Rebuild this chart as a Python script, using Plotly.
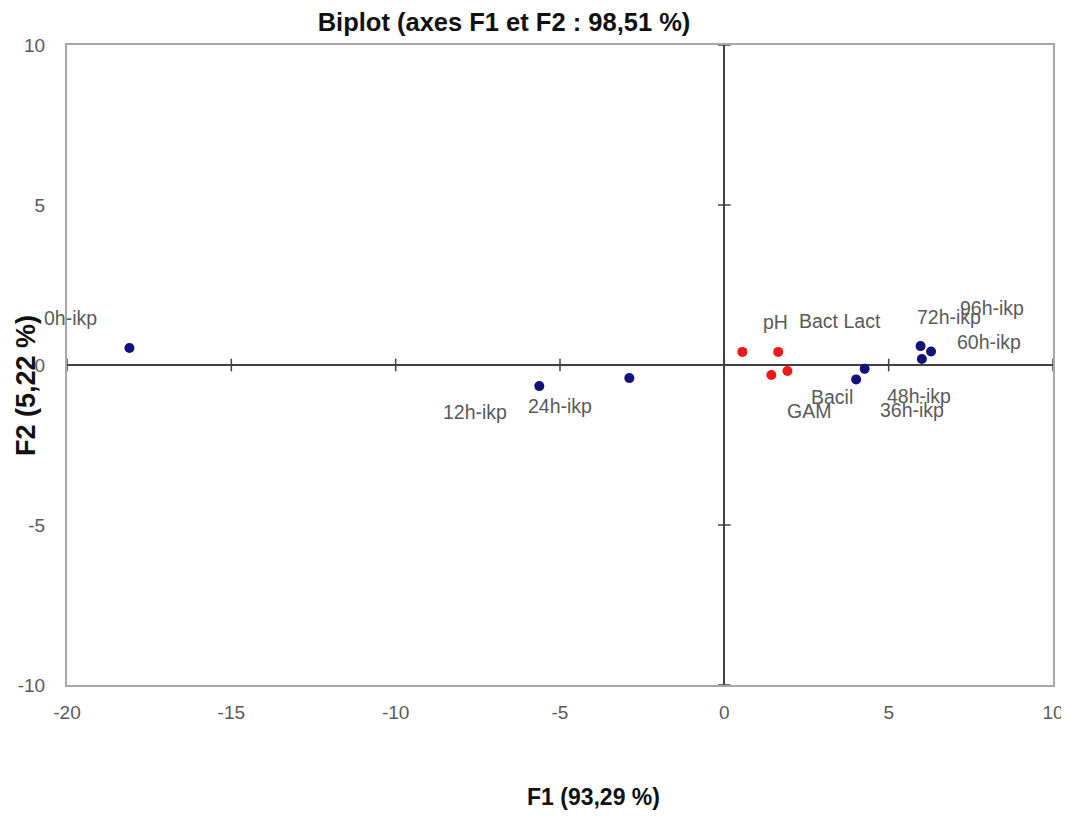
import plotly.graph_objects as go

# ---- data ----
obs_names = ["0h-ikp", "12h-ikp", "24h-ikp", "36h-ikp", "48h-ikp", "60h-ikp", "72h-ikp", "96h-ikp"]
obs_f1 = [-18.10, -5.63, -2.89, 4.01, 4.27, 6.01, 5.97, 6.29]
obs_f2 = [0.53, -0.66, -0.41, -0.45, -0.12, 0.19, 0.59, 0.42]

var_names = ["pH", "Bact Lact", "GAM", "Bacil"]
var_f1 = [0.55, 1.64, 1.43, 1.92]
var_f2 = [0.41, 0.41, -0.31, -0.19]

x_ticks = [-20, -15, -10, -5, 0, 5, 10]
x_tick_labels = ["-20", "-15", "-10", "-5", "0", "5", "10"]
y_ticks = [-10, -5, 0, 5, 10]
y_tick_labels = ["-10", "-5", "0", "5", "10"]

title_text = "Biplot (axes F1 et F2 : 98,51 %)"
x_title = "F1 (93,29 %)"
y_title = "F2 (5,22 %)"

# ---- label placement (pixel offsets from each point) ----
label_offsets = {
    "0h-ikp": (-59, -30), "12h-ikp": (-64, 26), "24h-ikp": (-69, 28),
    "36h-ikp": (56, 31), "48h-ikp": (54, 27), "60h-ikp": (67, -17),
    "72h-ikp": (28, -29), "96h-ikp": (61, -44),
    "pH": (33, -30), "Bact Lact": (62, -31), "GAM": (38, 36), "Bacil": (45, 26),
}

FONT = "Liberation Sans, Arial, sans-serif"
GREY_TXT = "#5a5a5a"

# page body has an 8px margin: work in figure coordinates = page - 8
W, H = 1061, 808
PL, PR, PT, PB = 67 - 8, 1053 - 8, 45 - 8, 685 - 8

fig = go.Figure()

# tick marks on the centre axes
fig.add_trace(go.Scatter(
    x=x_ticks, y=[0] * len(x_ticks), mode="markers", hoverinfo="skip",
    marker=dict(symbol="line-ns", size=9, line=dict(color="#404040", width=1.5)),
    showlegend=False))
fig.add_trace(go.Scatter(
    x=[0] * len(y_ticks), y=y_ticks, mode="markers", hoverinfo="skip",
    marker=dict(symbol="line-ew", size=9, line=dict(color="#404040", width=1.5)),
    showlegend=False))

fig.add_trace(go.Scatter(
    x=obs_f1, y=obs_f2, mode="markers", name="Observations",
    marker=dict(color="#12127a", size=10), showlegend=False))
fig.add_trace(go.Scatter(
    x=var_f1, y=var_f2, mode="markers", name="Variables",
    marker=dict(color="#f01818", size=10), showlegend=False))

for names, xs, ys in ((obs_names, obs_f1, obs_f2), (var_names, var_f1, var_f2)):
    for n, x, y in zip(names, xs, ys):
        dx, dy = label_offsets[n]
        fig.add_annotation(x=x, y=y, text=n, showarrow=False,
                           xshift=dx, yshift=-dy, xanchor="center", yanchor="middle",
                           font=dict(family=FONT, size=19.5, color=GREY_TXT))

fig.add_annotation(text=x_title, xref="paper", yref="paper",
                   x=(593 - 8 - PL) / (PR - PL), y=-(797 - 8 - PB) / (PB - PT),
                   showarrow=False, xanchor="center", yanchor="middle",
                   font=dict(family=FONT, size=23, color="#111111", weight="bold"))
fig.add_annotation(text=y_title, xref="paper", yref="paper",
                   x=-(PL - (26 - 8)) / (PR - PL), y=(PB - (386 - 8)) / (PB - PT),
                   showarrow=False, xanchor="center", yanchor="middle", textangle=-90,
                   font=dict(family=FONT, size=27, color="#111111", weight="bold"))

fig.update_layout(
    width=W, height=H,
    margin=dict(l=PL, r=W - PR, t=PT, b=H - PB, autoexpand=False),
    paper_bgcolor="white", plot_bgcolor="white",
    title=dict(text=title_text, xref="container", yref="container",
               x=(504 - 8) / W, y=1 - (22 - 8) / H, xanchor="center", yanchor="middle",
               font=dict(family=FONT, size=25.5, color="#111111", weight="bold")),
    xaxis=dict(range=[-20, 10], tickvals=x_ticks, ticktext=x_tick_labels, showgrid=False,
               zeroline=True, zerolinecolor="#404040", zerolinewidth=2,
               showline=True, mirror=True, linecolor="#a8a8a8", linewidth=2,
               ticks="", ticklabelstandoff=9,
               tickfont=dict(family=FONT, size=19, color=GREY_TXT)),
    yaxis=dict(range=[-10, 10], tickvals=y_ticks, ticktext=y_tick_labels, showgrid=False,
               zeroline=True, zerolinecolor="#404040", zerolinewidth=2,
               showline=True, mirror=True, linecolor="#a8a8a8", linewidth=2,
               ticks="", ticklabelstandoff=16,
               tickfont=dict(family=FONT, size=19, color=GREY_TXT)),
    showlegend=False,
)

fig.write_html("out.html")
